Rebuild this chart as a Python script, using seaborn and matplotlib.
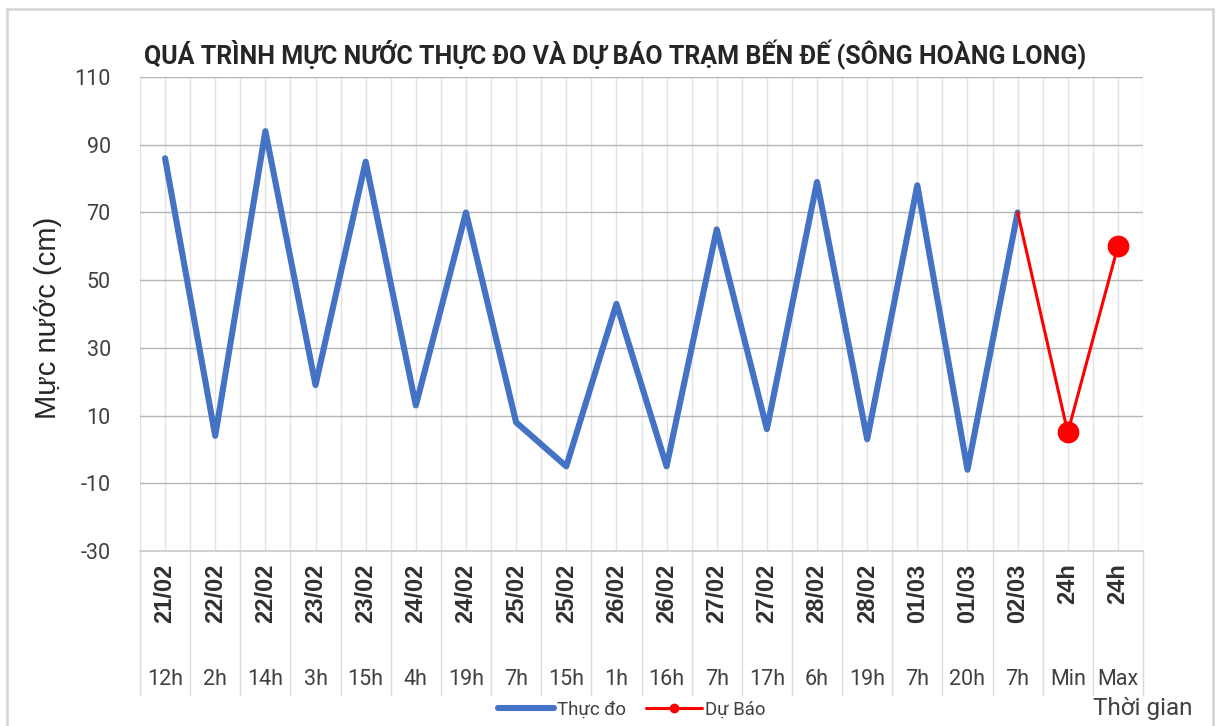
import numpy as np
import pandas as pd
import matplotlib
matplotlib.use("Agg")
import matplotlib.pyplot as plt
import matplotlib.transforms as mtransforms
from matplotlib.lines import Line2D
from matplotlib.patches import Rectangle
import seaborn as sns

# ── Données ─────────────────────────────────────────────────────────────────
ngay = ["21/02", "22/02", "22/02", "23/02", "23/02", "24/02", "24/02", "25/02",
        "25/02", "26/02", "26/02", "27/02", "27/02", "28/02", "28/02", "01/03",
        "01/03", "02/03", "24h", "24h"]
gio = ["12h", "2h", "14h", "3h", "15h", "4h", "19h", "7h", "15h", "1h",
       "16h", "7h", "17h", "6h", "19h", "7h", "20h", "7h", "Min", "Max"]
thuc_do = [86, 4, 94, 19, 85, 13, 70, 8, -5, 43, -5, 65, 6, 79, 3, 78, -6, 70]
du_bao = [70, 5, 60]                       # 02/03 7h, Min, Max
du_bao_gio = ["7h", "Min", "Max"]
y_ticks = [-30, -10, 10, 30, 50, 70, 90, 110]

TITLE = "QUÁ TRÌNH MỰC NƯỚC THỰC ĐO VÀ DỰ BÁO TRẠM BẾN ĐẾ (SÔNG HOÀNG LONG)"
BLUE = "#4472C4"
RED = "#FF0000"
FONT = ["Roboto", "DejaVu Sans"]

# ── Tables ──────────────────────────────────────────────────────────────────
x_pos = np.arange(len(gio))
df_do = pd.DataFrame({"x": x_pos[:len(thuc_do)], "muc_nuoc": thuc_do})
df_bao = pd.DataFrame({"x": x_pos[len(thuc_do) - 1:], "muc_nuoc": du_bao,
                       "gio": du_bao_gio})

# ── Figure ──────────────────────────────────────────────────────────────────
sns.set_style("white")
plt.rcParams["font.family"] = FONT

fig = plt.figure(figsize=(12.19, 7.26), dpi=100)
ax = fig.add_axes([140 / 1219, 1 - 551 / 726, 1003 / 1219, 474 / 726])

# cadre du graphique
fig.patches.append(Rectangle((7 / 1219, -0.05), 1206 / 1219, 1.05 - 9 / 726,
                             transform=fig.transFigure, fill=False,
                             edgecolor="#d4d4d4", linewidth=1.8, zorder=0))

# grilles
for xv in np.arange(-0.5, len(gio), 0.5):
    ax.axvline(xv, color="#e3e3e3", linewidth=1.0, zorder=0)
for yv in y_ticks[1:]:
    ax.axhline(yv, color="#b5b5b5", linewidth=1.0, zorder=0)

sns.lineplot(data=df_do, x="x", y="muc_nuoc", color=BLUE, linewidth=4.4,
             ax=ax, zorder=3)
sns.lineplot(data=df_bao, x="x", y="muc_nuoc", color=RED, linewidth=2.2,
             ax=ax, zorder=4)
sns.scatterplot(data=df_bao[df_bao["gio"] != "7h"], x="x", y="muc_nuoc",
                color=RED, s=210, edgecolor=RED, ax=ax, zorder=5)

ax.set_xlim(-0.5, len(gio) - 0.5)
ax.set_ylim(-30, 110)
ax.set_yticks(y_ticks)
ax.set_yticklabels([str(v) for v in y_ticks], fontsize=15.5, color="#404040")
ax.tick_params(axis="y", length=0, pad=21)

ax.set_xticks(x_pos)
ax.set_xticklabels(ngay, rotation=90, fontsize=17, color="#303030",
                   family=["Liberation Sans", "DejaVu Sans"],
                   fontweight="bold", va="top")
ax.tick_params(axis="x", length=0, pad=9)
ax.set_xlabel("")
ax.set_ylabel("")

for s in ["left", "right", "top"]:
    ax.spines[s].set_visible(False)
ax.spines["bottom"].set_color("#c8c8c8")
ax.spines["bottom"].set_linewidth(1.2)

# axe catégoriel à deux niveaux
trans = mtransforms.blended_transform_factory(ax.transData, ax.transAxes)
for xv in np.arange(-0.5, len(gio), 1.0):
    ax.plot([xv, xv], [0, -0.304], transform=trans, color="#d9d9d9",
            linewidth=1.0, clip_on=False)
for i, h in enumerate(gio):
    ax.text(i, -0.272, h, transform=trans, ha="center", va="center",
            fontsize=15.5, color="#404040")

# textes
fig.text(48 / 1219, 1 - 318 / 726, "Mực nước (cm)", rotation=90,
         ha="center", va="center", fontsize=21,
         family=["Liberation Sans", "DejaVu Sans"], color="#262626")
fig.text(615 / 1219, 1 - 55 / 726, TITLE, ha="center", va="center",
         fontsize=18, fontweight="bold", color="#262626")
fig.text(1093 / 1219, 1 - 708 / 726, "Thời gian", ha="left", va="center",
         fontsize=17.5, color="#404040")

handles = [Line2D([], [], color=BLUE, linewidth=4.4),
           Line2D([], [], color=RED, linewidth=2.2, marker="o", markersize=6)]
fig.legend(handles, ["Thực đo", "Dự Báo"], loc="center",
           bbox_to_anchor=(632 / 1219, 1 - 710 / 726), ncol=2, frameon=False,
           fontsize=13.4, handlelength=3.0, handletextpad=0.15,
           columnspacing=1.1, labelcolor="#404040")

fig.savefig("out.png", dpi=100)
